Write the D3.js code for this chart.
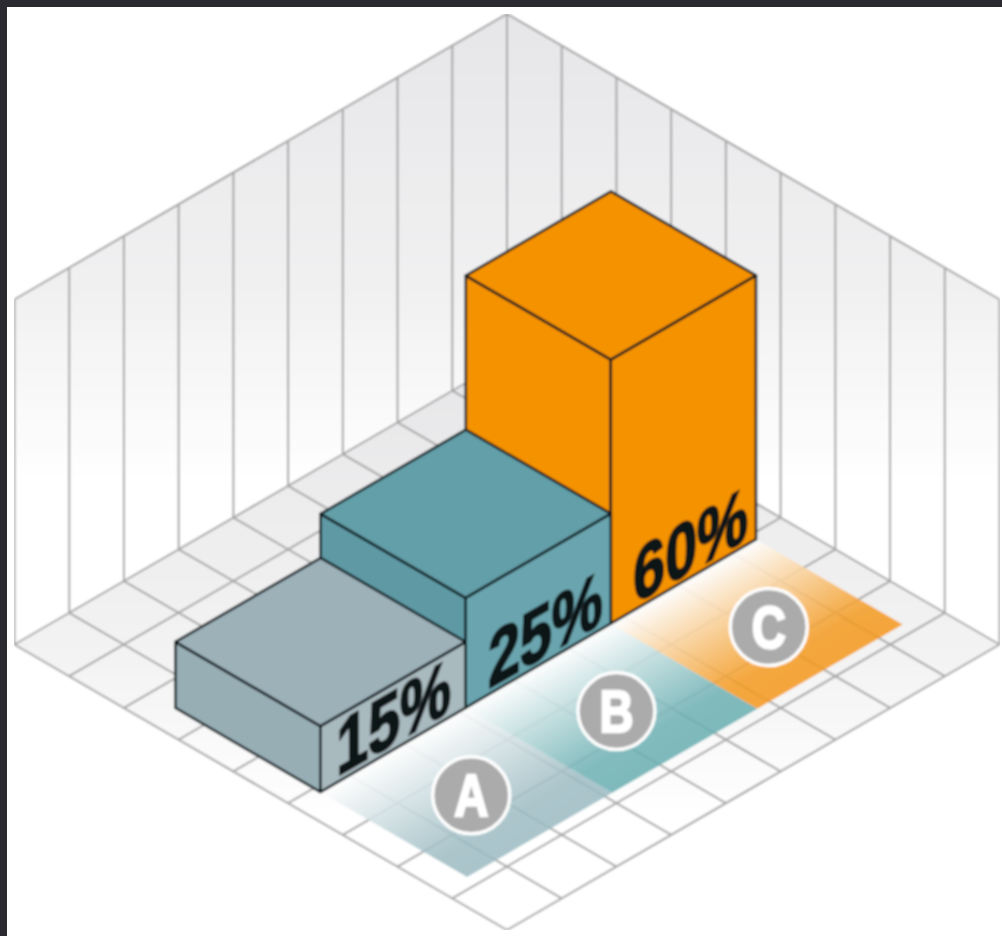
<!DOCTYPE html>
<html>
<head>
<meta charset="utf-8">
<script src="https://cdn.jsdelivr.net/npm/d3@7"></script>
<style>
	html, body { margin: 0; padding: 0; background: #fff; }
	svg { display: block; }
</style>
</head>
<body>
<svg width="1002" height="936"></svg>
<script>
(function(){
	'use strict';

	const categories = ['A', 'B', 'C'];
	const shares = [15, 25, 60];
	const shareLabels = ['15%', '25%', '60%'];
	const topColors = ['#9db1b9', '#649fa8', '#f59200'];
	const leftColors = ['#98aeb5', '#5f9aa4', '#f59200'];
	const rightColors = ['#a9babf', '#6ba5af', '#f59200'];
	const stripColors = ['#9dbcc3', '#6db0b3', '#f49a20'];
	const gridTicks = d3.range(0, 10);

	const svg = d3.select('svg');
	const width = +svg.attr('width');
	const height = +svg.attr('height');

	// isometric axes: u runs back corner -> right, v runs back corner -> left
	const centerX = 507;
	const backY = 359;
	const gridX = d3.scaleLinear().domain([0, 9]).range([0, 492.5]);
	const gridY = d3.scaleLinear().domain([0, 9]).range([0, 285.5]);
	const heightScale = d3.scaleLinear().domain([0, 60]).range([0, 264]);
	const wallTop = 345;

	const footprint = d3.scaleBand().domain(categories.slice().reverse()).range([0.57, 8.53]);
	const boxFront = 5.12;
	const boxBack = 2.47;
	const stripEnd = 7.8;
	const badgeRow = 6.55;
	const badgeNudge = [0, 0, 0.065];
	const labelAlong = [0.495, 0.45, 0.45];
	const labelSqueeze = 0.87;

	const project = (u, v, h = 0) => [
		centerX + gridX(u) - gridX(v),
		backY + gridY(u) + gridY(v) - h
	];
	const poly = d3.line();

	svg.append('rect').attr('width', width).attr('height', height).attr('fill', '#2a2a30');
	svg.append('rect').attr('x', 7).attr('y', 7).attr('width', width).attr('height', height).attr('fill', '#fff');

	const defs = svg.append('defs');
	defs.append('filter').attr('id', 'soft')
		.attr('x', 0).attr('y', 0).attr('width', '100%').attr('height', '100%')
		.append('feGaussianBlur').attr('stdDeviation', 0.8);
	const wallGrad = defs.append('linearGradient')
		.attr('id', 'wallGrad').attr('gradientUnits', 'userSpaceOnUse')
		.attr('x1', 0).attr('y1', 14).attr('x2', 0).attr('y2', 640);
	wallGrad.append('stop').attr('offset', 0).attr('stop-color', '#e6e6e9');
	wallGrad.append('stop').attr('offset', 0.45).attr('stop-color', '#f1f1f2');
	wallGrad.append('stop').attr('offset', 0.75).attr('stop-color', '#fff');
	const floorGrad = defs.append('linearGradient')
		.attr('id', 'floorGrad').attr('gradientUnits', 'userSpaceOnUse')
		.attr('x1', 0).attr('y1', 359).attr('x2', 0).attr('y2', 930);
	floorGrad.append('stop').attr('offset', 0).attr('stop-color', '#e6e6e8');
	floorGrad.append('stop').attr('offset', 0.55).attr('stop-color', '#f4f4f4');
	floorGrad.append('stop').attr('offset', 0.8).attr('stop-color', '#fff');

	categories.forEach((c, i) => {
		const g = defs.append('linearGradient').attr('id', `strip${c}`);
		g.append('stop').attr('offset', 0).attr('stop-color', '#fff').attr('stop-opacity', 0.92);
		g.append('stop').attr('offset', 0.78).attr('stop-color', stripColors[i]).attr('stop-opacity', 0.85);
		g.append('stop').attr('offset', 1).attr('stop-color', stripColors[i]).attr('stop-opacity', 0.88);
	});

	// walls and floor
	const chart = svg.append('g').attr('filter', 'url(#soft)');
	chart.append('path')
		.attr('d', poly([project(9, 0, wallTop), project(0, 0, wallTop), project(0, 9, wallTop), project(0, 9), project(0, 0), project(9, 0)]) + 'Z')
		.attr('fill', 'url(#wallGrad)');
	chart.append('path')
		.attr('d', poly([project(0, 0), project(9, 0), project(9, 9), project(0, 9)]) + 'Z')
		.attr('fill', 'url(#floorGrad)');

	const gridG = chart.append('g')
		.attr('fill', 'none')
		.attr('stroke', '#a6a6a6')
		.attr('stroke-width', 2);
	gridTicks.forEach(t => {
		gridG.append('path').attr('d', poly([project(t, 0), project(t, 9)]));
		gridG.append('path').attr('d', poly([project(0, t), project(9, t)]));
		gridG.append('path').attr('d', poly([project(t, 0), project(t, 0, wallTop)]));
		gridG.append('path').attr('d', poly([project(0, t), project(0, t, wallTop)]));
	});
	gridG.append('path').attr('d', poly([project(9, 0, wallTop), project(0, 0, wallTop), project(0, 9, wallTop)]));

	// fading strips in front of the boxes
	categories.forEach(c => {
		const v0 = footprint(c);
		const v1 = v0 + footprint.bandwidth();
		const o = project(boxFront, v0);
		const a = project(stripEnd, v0);
		const b = project(boxFront, v1);
		chart.append('rect')
			.attr('width', 1).attr('height', 1)
			.attr('transform', `matrix(${a[0] - o[0]},${a[1] - o[1]},${b[0] - o[0]},${b[1] - o[1]},${o[0]},${o[1]})`)
			.attr('fill', `url(#strip${c})`);
	});

	// boxes, back to front
	d3.range(categories.length - 1, -1, -1).forEach(i => {
		const c = categories[i];
		const v0 = footprint(c);
		const v1 = v0 + footprint.bandwidth();
		const h = heightScale(shares[i]);
		const boxG = chart.append('g')
			.attr('stroke', '#08171c')
			.attr('stroke-width', 2.6)
			.attr('stroke-linejoin', 'round');
		boxG.append('path')
			.attr('d', poly([project(boxBack, v1, h), project(boxFront, v1, h), project(boxFront, v1), project(boxBack, v1)]) + 'Z')
			.attr('fill', leftColors[i]);
		boxG.append('path')
			.attr('d', poly([project(boxFront, v1, h), project(boxFront, v0, h), project(boxFront, v0), project(boxFront, v1)]) + 'Z')
			.attr('fill', rightColors[i]);
		boxG.append('path')
			.attr('d', poly([project(boxBack, v0, h), project(boxFront, v0, h), project(boxFront, v1, h), project(boxBack, v1, h)]) + 'Z')
			.attr('fill', topColors[i]);

		// label lies on the right face, sheared along the bottom edge
		const p = project(boxFront, v0 + footprint.bandwidth() * labelAlong[i], 6);
		chart.append('text')
			.attr('transform', `matrix(${0.866 * labelSqueeze},${-0.5 * labelSqueeze},0,1,${p[0]},${p[1]})`)
			.attr('text-anchor', 'middle')
			.attr('font-family', '"Liberation Sans", sans-serif')
			.attr('font-weight', 700)
			.attr('font-size', 76)
			.attr('fill', '#0e1214')
			.attr('stroke', '#0e1214')
			.attr('stroke-width', 2.6)
			.text(shareLabels[i]);
	});

	// category badges
	categories.forEach((c, i) => {
		const v = footprint(c) + footprint.bandwidth() / 2;
		const p = project(badgeRow + badgeNudge[i], v - badgeNudge[i]);
		const badge = chart.append('g').attr('transform', `translate(${p[0]}, ${p[1]})`);
		badge.append('circle')
			.attr('r', 38.5)
			.attr('fill', '#ababab')
			.attr('stroke', '#fff')
			.attr('stroke-width', 3.5);
		badge.append('text')
			.attr('transform', 'translate(0, 21) scale(0.8, 1)')
			.attr('text-anchor', 'middle')
			.attr('font-family', '"Liberation Sans", sans-serif')
			.attr('font-weight', 700)
			.attr('font-size', 59)
			.attr('fill', '#fff')
			.attr('stroke', '#fff')
			.attr('stroke-width', 2.5)
			.text(c);
	});
})();
</script>
</body>
</html>
